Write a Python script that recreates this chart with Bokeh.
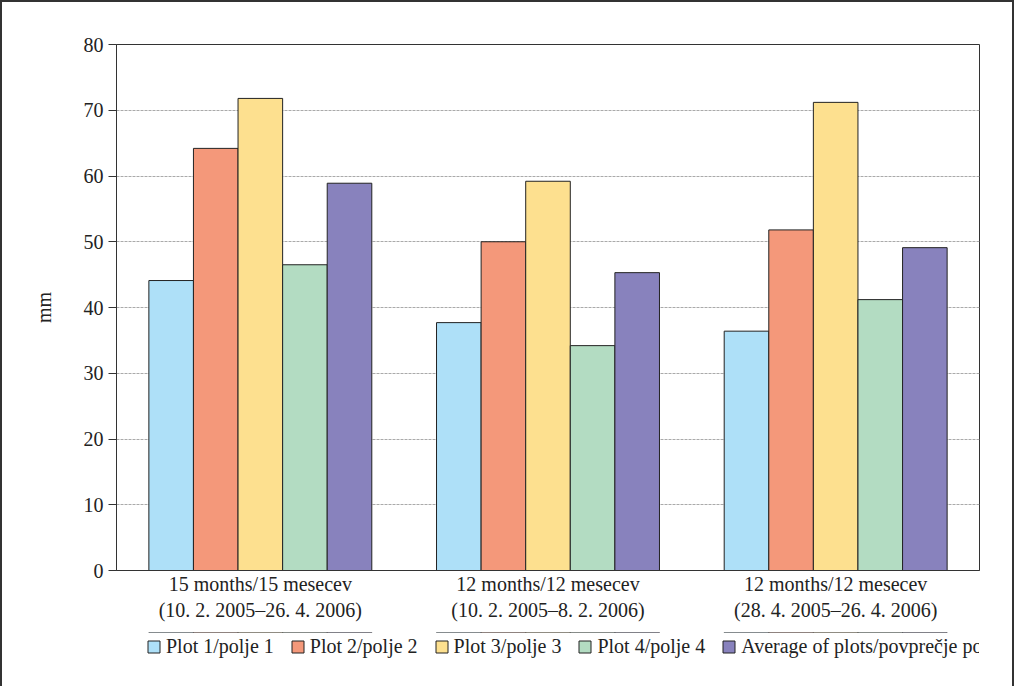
from bokeh.plotting import figure
from bokeh.layouts import column
from bokeh.embed import file_html
from bokeh.resources import INLINE
from bokeh.models import (FactorRange, Range1d, Legend, LegendItem,
                          SingleIntervalTicker, ColumnDataSource)
from bokeh.transform import dodge

# periods (x categories)
groups = [
    "15 months/15 mesecev\n(10. 2. 2005–26. 4. 2006)",
    "12 months/12 mesecev\n(10. 2. 2005–8. 2. 2006)",
    "12 months/12 mesecev\n(28. 4. 2005–26. 4. 2006)",
]
series = ["Plot 1/polje 1", "Plot 2/polje 2", "Plot 3/polje 3",
          "Plot 4/polje 4", "Average of plots/povprečje polj"]

# values in mm
plot1 = [44.1, 37.7, 36.4]
plot2 = [64.2, 50.0, 51.8]
plot3 = [71.8, 59.2, 71.2]
plot4 = [46.5, 34.2, 41.2]
average = [58.9, 45.3, 49.1]

colors = ["#aee0f8", "#f4987a", "#fde08f", "#b3dcc2", "#8882bd"]
FONT = "Liberation Serif"

src = ColumnDataSource(dict(g=groups, p1=plot1, p2=plot2, p3=plot3,
                            p4=plot4, avg=average))
cols = ["p1", "p2", "p3", "p4", "avg"]

p = figure(
    x_range=FactorRange(factors=groups),
    y_range=Range1d(0, 80),
    frame_width=863, frame_height=526,
    min_border_left=114, min_border_right=33,
    min_border_top=42, min_border_bottom=62,
    toolbar_location=None, tools="",
    output_backend="svg",
)

bw = 0.155
for i, (c, col) in enumerate(zip(cols, colors)):
    p.vbar(x=dodge("g", (i - 2) * bw, range=p.x_range), top=c, width=bw,
           source=src, fill_color=col, line_color="#222", line_width=1)

p.outline_line_color = "#333"
p.xgrid.visible = False
p.ygrid.grid_line_color = "#aaaaaa"
p.ygrid.grid_line_dash = "3 1"

p.yaxis.ticker = SingleIntervalTicker(interval=10, num_minor_ticks=0)
p.yaxis.axis_label = "mm"
p.yaxis.axis_label_text_font = FONT
p.yaxis.axis_label_text_font_style = "normal"
p.yaxis.axis_label_text_font_size = "20px"
p.yaxis.axis_label_standoff = 26
p.yaxis.major_tick_out = 8
p.yaxis.major_tick_in = 0
p.yaxis.minor_tick_line_color = None

for ax in (p.xaxis, p.yaxis):
    ax.axis_line_color = "#333"
    ax.major_tick_line_color = "#333"
    ax.major_label_text_font = FONT
    ax.major_label_text_font_size = "20px"
    ax.major_label_text_color = "#222"
    ax.axis_label_text_color = "#222"

p.xaxis.major_tick_out = 0
p.xaxis.major_tick_in = 0
p.xaxis.major_label_standoff = 2

# legend strip under the chart (its bars sit outside the visible y range)
lg = figure(
    x_range=p.x_range, y_range=Range1d(-2, -1),
    width=1010, height=54, min_border=0,
    x_axis_location=None, y_axis_location=None,
    toolbar_location=None, tools="", output_backend="svg",
)
lg.outline_line_color = None
lg.grid.visible = False
items = []
for i, (c, name, col) in enumerate(zip(cols, series, colors)):
    r = lg.vbar(x=dodge("g", (i - 2) * bw, range=lg.x_range), top=c,
                width=bw, source=src, fill_color=col, line_color="#222")
    items.append(LegendItem(label=name, renderers=[r]))

legend = Legend(items=items, orientation="horizontal", location=(30, 28),
                label_text_font=FONT, label_text_font_size="20px",
                label_text_color="#222", glyph_width=15, glyph_height=15,
                label_standoff=5, spacing=16, padding=0, margin=0,
                border_line_color=None, background_fill_alpha=0)
lg.add_layout(legend, "center")

page = column(p, lg, spacing=0, styles={"border": "2px solid #333"})

open("out.html", "w").write(file_html(page, INLINE))
